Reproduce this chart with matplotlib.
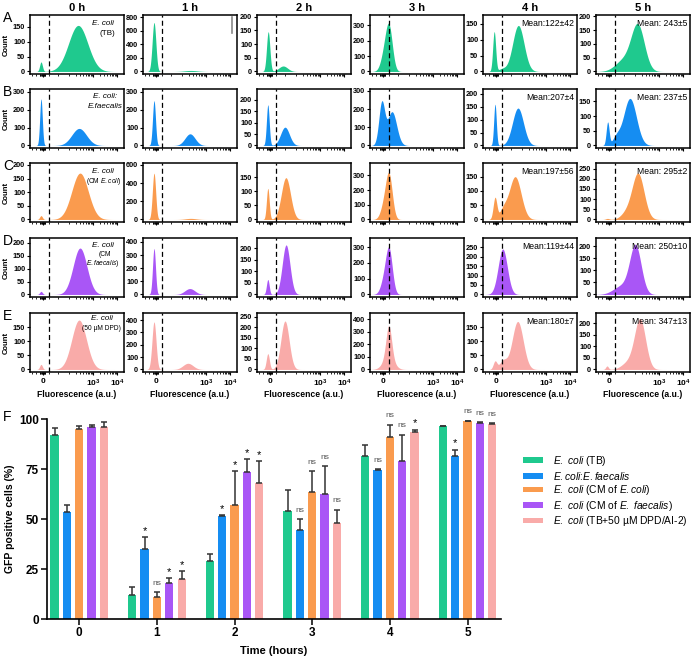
import numpy as np
import matplotlib.pyplot as plt

plt.rcParams['font.family'] = ['Liberation Sans', 'DejaVu Sans']
plt.rcParams['mathtext.fontset'] = 'custom'
plt.rcParams['mathtext.rm'] = 'Liberation Sans'
plt.rcParams['mathtext.it'] = 'Liberation Sans:italic'
plt.rcParams['mathtext.bf'] = 'Liberation Sans:bold'

# ---------------- data ----------------
hours = ['0 h', '1 h', '2 h', '3 h', '4 h', '5 h']
row_letters = ['A', 'B', 'C', 'D', 'E']
colors = ['#1fc98e', '#158df2', '#fa9b4e', '#a956f6', '#f9aba9']

# histogram peaks per panel (channel 0-1024, count, width), one list per time point
peaks_tb = [[(120, 32, 15), (525, 155, 105)],
            [(120, 720, 20), (520, 15, 70)],
            [(122, 145, 18), (285, 20, 48)],
            [(160, 120, 40), (210, 250, 36)],
            [(122, 125, 16), (385, 145, 62), (210, 8, 40)],
            [(455, 165, 72), (300, 40, 90)]]
peaks_mix = [[(120, 260, 14), (535, 95, 80)],
             [(120, 250, 16), (512, 65, 55)],
             [(118, 178, 15), (305, 80, 48)],
             [(128, 230, 32), (240, 185, 50)],
             [(131, 160, 14), (381, 145, 60)],
             [(127, 78, 16), (370, 160, 70), (220, 25, 40)]]
peaks_cm_ecoli = [[(120, 14, 15), (545, 170, 90)],
                  [(120, 510, 18), (520, 12, 60)],
                  [(118, 110, 15), (315, 148, 50)],
                  [(160, 110, 40), (210, 265, 35)],
                  [(131, 75, 20), (350, 150, 65), (220, 30, 40)],
                  [(125, 5, 20), (458, 225, 65), (330, 30, 60)]]
peaks_cm_efae = [[(120, 12, 15), (545, 180, 75)],
                 [(120, 350, 16), (510, 45, 55)],
                 [(118, 65, 15), (317, 215, 42)],
                 [(160, 100, 40), (210, 250, 35)],
                 [(215, 240, 50)],
                 [(430, 200, 62), (280, 35, 90)]]
peaks_dpd = [[(120, 18, 15), (535, 175, 80)],
             [(120, 385, 22), (490, 50, 55)],
             [(118, 75, 17), (305, 230, 45)],
             [(205, 250, 30), (200, 100, 58)],
             [(131, 28, 20), (378, 170, 60), (220, 30, 40)],
             [(120, 15, 15), (480, 215, 60), (350, 30, 70)]]

ymax_tb = [190, 830, 206, 366, 178, 205]
ymax_mix = [315, 315, 247, 310, 219, 192]
ymax_cm_ecoli = [207, 622, 200, 385, 198, 277]
ymax_cm_efae = [219, 430, 245, 357, 298, 235]
ymax_dpd = [200, 457, 268, 451, 200, 244]

ystep_tb = [50, 200, 50, 100, 50, 50]
ystep_mix = [100, 100, 50, 100, 50, 50]
ystep_cm_ecoli = [50, 200, 50, 100, 50, 50]
ystep_cm_efae = [50, 100, 50, 100, 50, 50]
ystep_dpd = [50, 100, 50, 100, 50, 50]

means_4h = ['Mean:122±42', 'Mean:207±4', 'Mean:197±56', 'Mean:119±44', 'Mean:180±7']
means_5h = ['Mean: 243±5', 'Mean: 237±5', 'Mean: 295±2', 'Mean: 250±10', 'Mean: 347±13']

gate_channel = 205

# bar chart (panel F)
time_points = [0, 1, 2, 3, 4, 5]
gfp_tb = [92.2, 12.2, 28.8, 53.8, 81.7, 96.3]
gfp_mix = [53.3, 35.0, 51.7, 44.3, 74.7, 81.7]
gfp_cm_ecoli = [95.0, 10.8, 57.2, 63.5, 91.0, 98.8]
gfp_cm_efae = [96.0, 18.2, 73.3, 62.7, 79.2, 98.0]
gfp_dpd = [96.0, 20.2, 68.0, 48.0, 93.5, 97.5]
err_tb = [3.3, 3.8, 3.9, 10.9, 5.5, 0.4]
err_mix = [3.9, 5.8, 0.3, 5.7, 0.3, 3.0]
err_cm_ecoli = [1.7, 2.5, 16.6, 10.3, 6.2, 0.4]
err_cm_efae = [1.2, 2.3, 6.7, 13.6, 13.0, 0.3]
err_dpd = [2.3, 3.6, 10.8, 6.5, 1.2, 0.3]
sig_mix = ['', '*', '*', 'ns', 'ns', '*']
sig_cm_ecoli = ['', 'ns', '*', 'ns', 'ns', 'ns']
sig_cm_efae = ['', '*', '*', 'ns', 'ns', 'ns']
sig_dpd = ['', '*', '*', 'ns', '*', 'ns']

legend_labels = [r'$\it{E.\ coli}$ (TB)',
                 r'$\it{E.coli}$:$\it{E.faecalis}$',
                 r'$\it{E.\ coli}$ (CM of $\it{E.coli}$)',
                 r'$\it{E.\ coli}$ (CM of $\it{E.\ faecalis}$)',
                 r'$\it{E.\ coli}$ (TB+50 µM DPD/AI-2)']

all_peaks = [peaks_tb, peaks_mix, peaks_cm_ecoli, peaks_cm_efae, peaks_dpd]
all_ymax = [ymax_tb, ymax_mix, ymax_cm_ecoli, ymax_cm_efae, ymax_dpd]
all_ystep = [ystep_tb, ystep_mix, ystep_cm_ecoli, ystep_cm_efae, ystep_dpd]

# ---------------- figure ----------------
W, H = 696, 657
fig = plt.figure(figsize=(W / 100, H / 100), dpi=100)


def px_axes(left, top, width, height):
    return fig.add_axes([left / W, 1 - (top + height) / H, width / W, height / H])


col_left = [30, 143, 257, 370, 483, 596]
row_top = [15, 89, 163, 238, 313]
pw, ph = 94, 59

# fluorescence axis ticks (biexponential display, channel units)
major_ch = [138, 686, 947]
minor_ch = [18, 62] + list(np.arange(108, 170, 6)) + [210, 309]
for d in (100, 1000, 10000):
    for k in range(1, 10):
        c = 425 + 261 * np.log10(d * k / 100)
        if c < 1024 and c not in major_ch:
            minor_ch.append(c)

x = np.linspace(0, 1024, 500)

for r in range(5):
    for c in range(6):
        ax = px_axes(col_left[c], row_top[r], pw, ph)
        y = np.zeros_like(x)
        for mu, h, s in all_peaks[r][c]:
            y += h * np.exp(-0.5 * ((x - mu) / s) ** 2)
        ax.fill_between(x, 0, y, color=colors[r], lw=0)
        ymax = all_ymax[r][c]
        ax.set_ylim(-0.045 * ymax, ymax)
        ax.set_xlim(0, 1024)
        ax.axvline(gate_channel, color='black', lw=0.9, ls=(0, (4, 2.5)))
        step = all_ystep[r][c]
        ax.set_yticks(np.arange(0, ymax, step))
        ax.set_xticks(major_ch)
        ax.set_xticks(minor_ch, minor=True)
        ax.tick_params(axis='y', labelsize=5.3, length=2, width=0.8, pad=1.5)
        ax.tick_params(axis='x', which='major', length=2.5, width=0.8, pad=1.5)
        ax.tick_params(axis='x', which='minor', length=1.5, width=0.6)
        for lab in ax.get_yticklabels():
            lab.set_fontweight('bold')
        for sp in ax.spines.values():
            sp.set_linewidth(1.1)
        if r == 4:
            ax.set_xticklabels(['0', r'$\mathbf{10^3}$', r'$\mathbf{10^4}$'],
                               fontsize=6, fontweight='bold')
            ax.set_xlabel('Fluorescence (a.u.)', fontsize=6.2, fontweight='bold', labelpad=1)
        else:
            ax.set_xticklabels([])
        if c == 0:
            ax.set_ylabel('Count', fontsize=5.5, fontweight='bold', labelpad=2)
            fig.text(3 / W, 1 - (row_top[r] - 4) / H, row_letters[r], fontsize=10,
                     va='top', ha='left')
        if r == 0:
            ax.set_title(hours[c], fontsize=8, fontweight='bold', pad=3)
        if c == 4:
            ax.text(0.97, 0.93, means_4h[r], transform=ax.transAxes, ha='right',
                    va='top', fontsize=6.2)
        if c == 5:
            ax.text(0.97, 0.93, means_5h[r], transform=ax.transAxes, ha='right',
                    va='top', fontsize=6.2)
        if r == 0 and c == 1:
            ax.plot([0.95, 0.95], [0.7, 0.97], transform=ax.transAxes,
                    color='#888888', lw=1.2)

        # condition labels in the 0 h column
        if c == 0:
            if r == 0:
                ax.text(0.78, 0.86, 'E. coli', style='italic', transform=ax.transAxes,
                        ha='center', va='center', fontsize=5.8)
                ax.text(0.82, 0.68, '(TB)', transform=ax.transAxes,
                        ha='center', va='center', fontsize=5.8)
            elif r == 1:
                ax.text(0.8, 0.88, 'E. coli:', style='italic', transform=ax.transAxes,
                        ha='center', va='center', fontsize=5.8)
                ax.text(0.8, 0.7, 'E.faecalis', style='italic', transform=ax.transAxes,
                        ha='center', va='center', fontsize=5.8)
            elif r == 2:
                ax.text(0.78, 0.85, 'E. coli', style='italic', transform=ax.transAxes,
                        ha='center', va='center', fontsize=5.8)
                ax.text(0.78, 0.68, r'(CM $\it{E.coli}$)', transform=ax.transAxes,
                        ha='center', va='center', fontsize=4.8)
            elif r == 3:
                ax.text(0.78, 0.88, 'E. coli', style='italic', transform=ax.transAxes,
                        ha='center', va='center', fontsize=5.8)
                ax.text(0.8, 0.72, '(CM', transform=ax.transAxes,
                        ha='center', va='center', fontsize=4.8)
                ax.text(0.78, 0.57, r'$\it{E.faecalis}$)', transform=ax.transAxes,
                        ha='center', va='center', fontsize=4.8)
            else:
                ax.text(0.76, 0.9, 'E. coli', style='italic', transform=ax.transAxes,
                        ha='center', va='center', fontsize=5.8)
                ax.text(0.76, 0.73, '(50 µM DPD)', transform=ax.transAxes,
                        ha='center', va='center', fontsize=4.8)

# ---------------- panel F ----------------
axf = px_axes(47, 419, 454, 200)
series = [gfp_tb, gfp_mix, gfp_cm_ecoli, gfp_cm_efae, gfp_dpd]
errors = [err_tb, err_mix, err_cm_ecoli, err_cm_efae, err_dpd]
sigs = [None, sig_mix, sig_cm_ecoli, sig_cm_efae, sig_dpd]
t = np.array(time_points)
bw = 0.107
for i in range(5):
    xs = t + (i - 2) * 0.159
    axf.bar(xs, series[i], width=bw, color=colors[i], label=legend_labels[i], zorder=2)
    axf.errorbar(xs, series[i], yerr=[np.zeros(6), errors[i]], fmt='none',
                 ecolor='#333333', elinewidth=1.1, capsize=2, capthick=1.1, zorder=3)
    if sigs[i] is not None:
        for xx, v, e, s in zip(xs, series[i], errors[i], sigs[i]):
            if s == '*':
                axf.text(xx, v + e + 3.2, s, ha='center', va='center', fontsize=8,
                         color='black', clip_on=False)
            elif s == 'ns':
                axf.text(xx, v + e + 4.5, s, ha='center', va='center', fontsize=6,
                         color='#555555', clip_on=False)

axf.set_xlim(-0.416, 5.43)
axf.set_ylim(0, 100)
axf.set_xticks(time_points)
axf.set_xticklabels([str(v) for v in time_points], fontsize=8.5, fontweight='bold')
axf.set_yticks([0, 25, 50, 75, 100])
axf.set_yticklabels(['0', '25', '50', '75', '100'], fontsize=8.5, fontweight='bold')
axf.tick_params(length=4, width=1.1, pad=2)
axf.spines['top'].set_visible(False)
axf.spines['right'].set_visible(False)
axf.spines['left'].set_linewidth(1.2)
axf.spines['bottom'].set_linewidth(1.2)
axf.set_xlabel('Time (hours)', fontsize=8, fontweight='bold', labelpad=5)
axf.set_ylabel('GFP positive cells (%)', fontsize=7.5, fontweight='bold', labelpad=3)
fig.text(3 / W, 1 - 410 / H, 'F', fontsize=10, va='top', ha='left')

axf.legend(loc='upper left', bbox_to_anchor=(523 / W, 1 - 454 / H),
           bbox_transform=fig.transFigure, frameon=False, fontsize=7.4,
           handlelength=1.9, handleheight=0.5, handletextpad=1.0,
           labelspacing=0.15, borderpad=0, borderaxespad=0)

fig.savefig('out.png', dpi=100)
